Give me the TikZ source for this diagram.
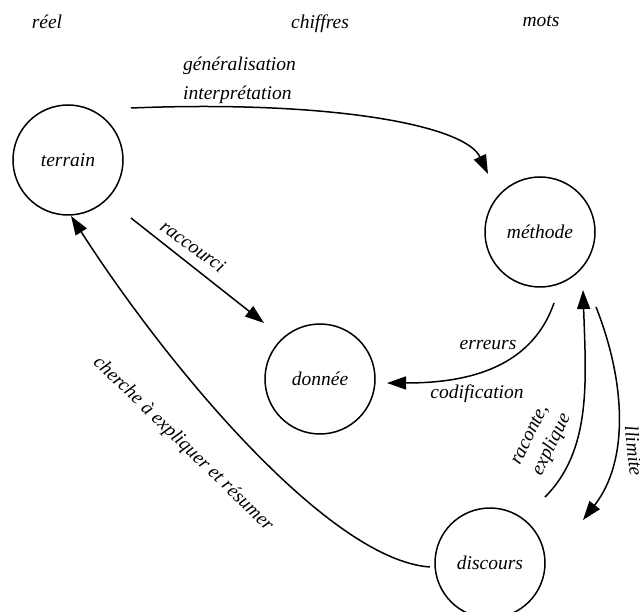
\documentclass[tikz,border=0pt]{standalone}
\usepackage{fontspec}
\setmainfont{Liberation Serif}
\usetikzlibrary{arrows.meta}
\begin{document}
\begin{tikzpicture}[x=1pt,y=-1pt,
  every node/.style={font=\fontsize{19.5}{22}\selectfont\itshape, inner sep=0pt},
  circ/.style={draw, circle, line width=1.5pt, minimum size=110pt},
  conn/.style={line width=1.5pt},
  arr/.style={conn, -{Triangle[length=19pt,width=13pt]}}]
\useasboundingbox (0,0) rectangle (640,612);
% top labels
\node (reel) at (47,22) {réel};
\node (chiffres) at (320,24) {chiffres};
\node (mots) at (541,21) {mots};
% circles
\node[circ] (terrain) at (68,160) {terrain};
\node[circ] (methode) at (540,232) {méthode};
\node[circ] (donnee) at (320,379) {donnée};
\node[circ] (discours) at (490,563) {discours};
% endpoints
\coordinate (a1) at (131,108);
\coordinate (a2) at (488,174);
\coordinate (b1) at (131,218);
\coordinate (b2) at (264,323);
\coordinate (c1) at (554,303);
\coordinate (c2) at (387,383);
\coordinate (d1) at (545,497);
\coordinate (d2) at (583,290);
\coordinate (e1) at (596,307);
\coordinate (e2) at (583,520);
\coordinate (f1) at (430,567);
\coordinate (f2) at (71,216);
% connectors
\draw[arr] (a1) .. controls (330,100) and (465,125) .. (a2);
\draw[arr] (b1) -- (b2);
\draw[arr] (c1) .. controls (530,372) and (460,383) .. (c2);
\draw[arr] (d1) .. controls (592,450) and (586,380) .. (d2);
\draw[arr] (e1) .. controls (625,380) and (630,460) .. (e2);
\draw[arr] (f1) .. controls (330,560) and (170,370) .. (f2);
% labels
\node[anchor=west] (gen) at (183,66) {généralisation};
\node[anchor=west] (interp) at (183,95) {interprétation};
\node[rotate=-36] (racc) at (193,246) {raccourci};
\node (err) at (488,345) {erreurs};
\node (codif) at (477,394) {codification};
\node[rotate=64, align=left, font=\fontsize{19.5}{24}\selectfont\itshape] (racex) at (542,440) {raconte,\\explique};
\node[rotate=-84] (lim) at (634,451) {llimite};
\node[rotate=-44] (cherche) at (183,444) {cherche à expliquer et résumer};
\end{tikzpicture}
\end{document}
